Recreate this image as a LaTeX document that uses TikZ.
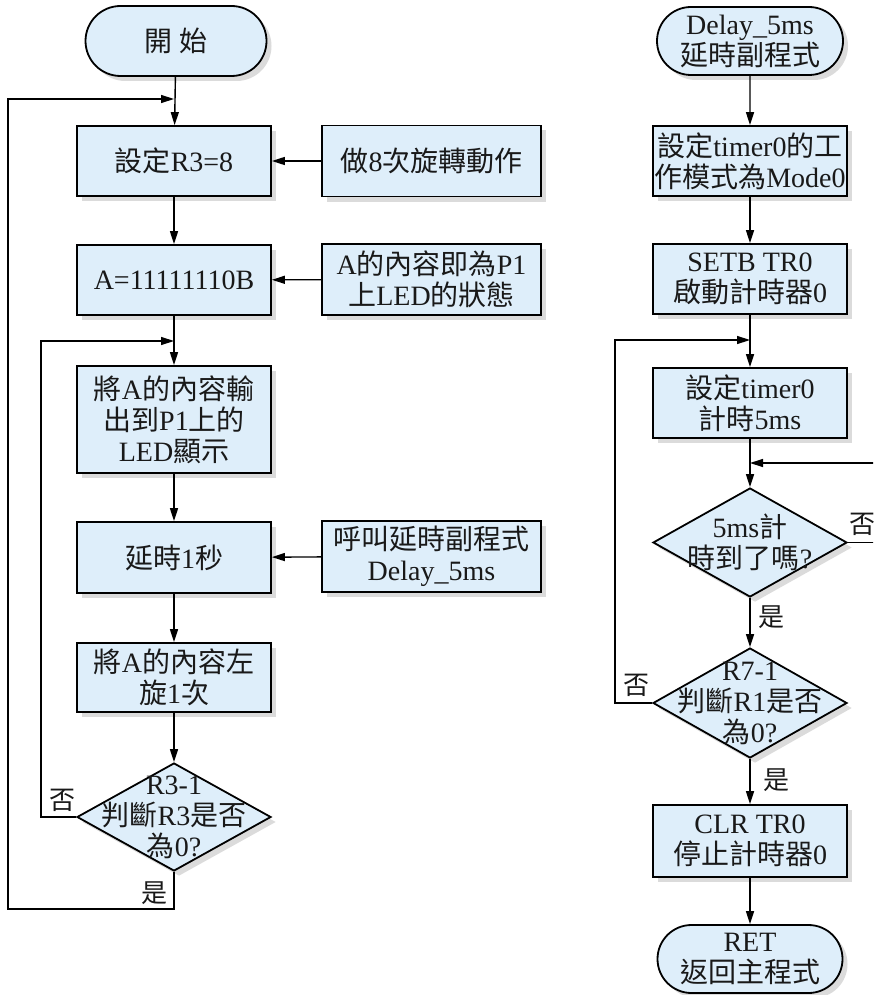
\documentclass[tikz,border=0pt]{standalone}
\usepackage{fontspec}
\setmainfont{Liberation Serif}
\newfontfamily\cjk{Noto Sans CJK TC}
\usetikzlibrary{shapes.geometric,shapes.misc,shadows,arrows.meta}
\definecolor{boxfill}{RGB}{222,238,250}
\newcommand\C[1]{{\cjk #1}}
\begin{document}
\begin{tikzpicture}[x=1pt,y=-1pt,
  base/.style={draw=black, line width=1.8pt, fill=boxfill, inner sep=0pt, align=center,
    font=\fontsize{28}{31}\selectfont, text=black!90,
    drop shadow={shadow xshift=5pt, shadow yshift=-5pt, fill=black!28}},
  proc/.style={base, rectangle, minimum width=194pt, minimum height=70pt},
  side/.style={base, rectangle, minimum width=219pt, minimum height=71pt},
  term/.style={base, rounded rectangle, minimum width=184pt, minimum height=69pt},
  dec/.style={base, diamond, minimum width=194pt, minimum height=108pt},
  dtext/.style={align=center, inner sep=0pt, font=\fontsize{28}{31}\selectfont, text=black!90},
  lbl/.style={inner sep=0pt, font=\fontsize{26}{28}\selectfont\cjk, text=black!90},
  ln/.style={line width=1.4pt},
  arr/.style={ln, -{Triangle[length=13pt,width=8pt]}}]
\clip (0,0) rectangle (873,995);
\fill[white] (0,0) rectangle (873,995);

% left column
\node[term, minimum width=181pt, minimum height=70pt] (start) at (176,41) {\C{開 始}};
\node[proc] (b1) at (174,161) {\C{設定}R3=8};
\node[proc] (b2) at (174,280) {A=11111110B};
\node[proc, minimum height=107pt] (b3) at (174,419.5) {\C{將}A\C{的內容輸}\\\C{出到}P1\C{上的}\\LED\C{顯示}};
\node[proc, minimum height=71pt] (b4) at (174,557.5) {\C{延時}1\C{秒}};
\node[proc, minimum height=69pt] (b5) at (174,677.5) {\C{將}A\C{的內容左}\\\C{旋}1\C{次}};
\node[dec] (d1) at (174,817) {};
\node[dtext] (d1t) at (d1.center) {R3-1\\\C{判斷}R3\C{是否}\\\C{為}0?};

% side boxes
\node[side] (s1) at (431.5,161) {\C{做}8\C{次旋轉動作}};
\node[side] (s2) at (431.5,279.5) {A\C{的內容即為}P1\\\C{上}LED\C{的狀態}};
\node[side] (s3) at (431.5,556.5) {\C{呼叫延時副程式}\\Delay\_5ms};

% right column
\node[term, minimum width=186pt, minimum height=68pt] (sub) at (750,41) {Delay\_5ms\\\C{延時副程式}};
\node[proc] (r1) at (750,161) {\C{設定}timer0\C{的工}\\\C{作模式為}Mode0};
\node[proc] (r2) at (750,279) {SETB TR0\\\C{啟動計時器}0};
\node[proc] (r3) at (750,403) {\C{設定}timer0\\\C{計時}5ms};
\node[dec, minimum height=109pt] (rd1) at (750,542.5) {};
\node[dtext] (rd1t) at (rd1.center) {5ms\C{計}\\\C{時到了嗎}?};
\node[dec, minimum height=110pt] (rd2) at (750,703) {};
\node[dtext] (rd2t) at (rd2.center) {R7-1\\\C{判斷}R1\C{是否}\\\C{為}0?};
\node[proc, minimum height=72pt] (r4) at (750,841) {CLR TR0\\\C{停止計時器}0};
\node[term, minimum width=185pt, minimum height=68pt] (ret) at (750,959) {RET\\\C{返回主程式}};

% labels
\node[lbl] (n1) at (62,800) {否};
\node[lbl] (y1) at (154,893) {是};
\node[lbl] (n2) at (862,524) {否};
\node[lbl] (y2) at (771,617) {是};
\node[lbl] (n3) at (636,685) {否};
\node[lbl] (y3) at (776,780) {是};

% coordinates
\coordinate (j1) at (174,99);
\coordinate (j2) at (174,341);
\coordinate (lp1) at (8,909);
\coordinate (lp2) at (41,817);
\coordinate (j3) at (750,340);
\coordinate (j4) at (750,463);
\coordinate (lp3) at (615,703);
\coordinate (lp4) at (885,542.5);

% left connectors
\draw[arr] (start) -- (b1);
\draw[arr] (b1) -- (b2);
\draw[arr] (b2) -- (b3);
\draw[arr] (b3) -- (b4);
\draw[arr] (b4) -- (b5);
\draw[arr] (b5) -- (d1);
\draw[arr] (s1) -- (b1);
\draw[arr] (s2) -- (b2);
\draw[arr] (s3) -- (b4);
\draw[arr] (d1.west) -- (lp2) |- (j2);
\draw[arr] (d1.south) |- (lp1) |- (j1);

% right connectors
\draw[arr] (sub) -- (r1);
\draw[arr] (r1) -- (r2);
\draw[arr] (r2) -- (r3);
\draw[arr] (r3) -- (rd1);
\draw[arr] (rd1) -- (rd2);
\draw[arr] (rd2) -- (r4);
\draw[arr] (r4) -- (ret);
\draw[arr] (rd2.west) -- (lp3) |- (j3);
\draw[arr] (rd1.east) -- (lp4) |- (j4);
\end{tikzpicture}
\end{document}
